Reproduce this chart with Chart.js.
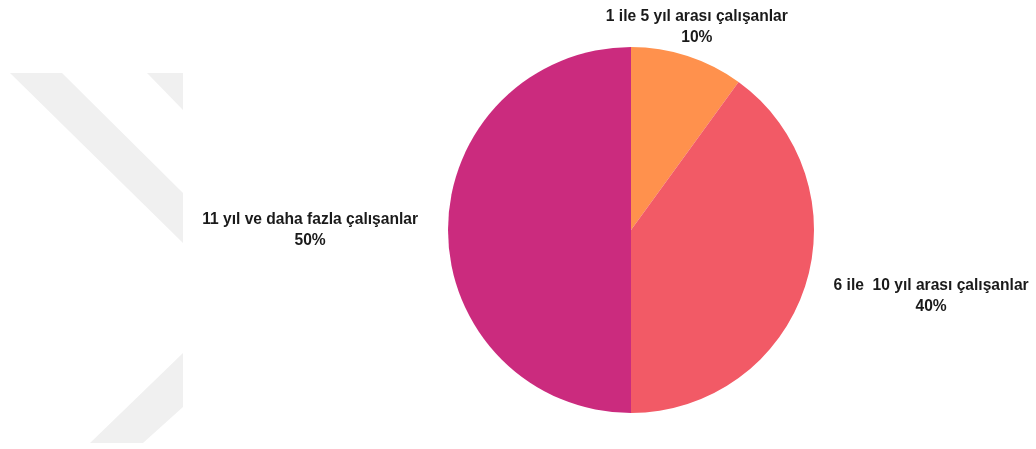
<!DOCTYPE html>
<html>
<head>
<meta charset="utf-8">
<script src="https://cdn.jsdelivr.net/npm/chart.js@4.4.0/dist/chart.umd.min.js"></script>
<style>
  html, body { margin: 0; padding: 0; background: #fff; }
  #wrap { width: 1036px; height: 449px; }
</style>
</head>
<body>
<div id="wrap"><canvas id="pieChart"></canvas></div>
<script>
// Data
const categories = ['1 ile 5 yıl arası çalışanlar', '6 ile  10 yıl arası çalışanlar', '11 yıl ve daha fazla çalışanlar'];
const shares = [10, 40, 50];
const sliceColors = ['#FF914D', '#F25A66', '#CB2B7E'];

// faded watermark in the background (left side)
const watermark = {
    id: 'watermark',
    beforeDraw(chart) {
        const c = chart.ctx;
        c.save();
        c.fillStyle = '#f0f0f0';
        c.beginPath();
        c.rect(0, 0, 183, 449);
        c.clip();
        const bands = [
            [[10, 73], [62, 73], [183, 193], [183, 243]],
            [[147, 73], [183, 73], [183, 110]],
            [[183, 353], [183, 407], [143, 443], [90, 443]]
        ];
        bands.forEach(b => {
            c.beginPath();
            c.moveTo(b[0][0], b[0][1]);
            for (let i = 1; i < b.length; i++) c.lineTo(b[i][0], b[i][1]);
            c.closePath();
            c.fill();
        });
        c.restore();
    }
};

// labels outside each slice: name + percentage
const outsideLabels = {
    id: 'outsideLabels',
    afterDatasetsDraw(chart) {
        const c = chart.ctx;
        const meta = chart.getDatasetMeta(0);
        c.save();
        c.font = 'bold 15.6px "Liberation Sans", Arial, sans-serif';
        c.fillStyle = '#1a1a1a';
        c.textAlign = 'center';
        c.textBaseline = 'middle';
        meta.data.forEach((arc, i) => {
            const mid = (arc.startAngle + arc.endAngle) / 2;
            const r = arc.outerRadius + 30;
            const x = arc.x + Math.cos(mid) * r;
            const y = arc.y + Math.sin(mid) * r;
            const lines = [categories[i], shares[i] + '%'];
            const w = Math.max(...lines.map(l => c.measureText(l).width));
            let cx = x;
            const dx = Math.cos(mid);
            if (dx > 0.5) cx = x + w / 2;
            else if (dx < -0.5) cx = x - w / 2;
            const lh = 21;
            lines.forEach((l, k) => {
                c.fillText(l, cx, y + (k - (lines.length - 1) / 2) * lh);
            });
        });
        c.restore();
    }
};

const ctx = document.getElementById('pieChart').getContext('2d');
const pieChart = new Chart(ctx, {
    type: 'pie',
    data: {
        labels: categories,
        datasets: [{
            data: shares,
            backgroundColor: sliceColors,
            borderWidth: 0
        }]
    },
    options: {
        responsive: true,
        maintainAspectRatio: false,
        animation: false,
        layout: {
            padding: { left: 448, right: 222, top: 47, bottom: 36 }
        },
        plugins: {
            legend: { display: false },
            tooltip: { enabled: false }
        }
    },
    plugins: [watermark, outsideLabels]
});
</script>
</body>
</html>
